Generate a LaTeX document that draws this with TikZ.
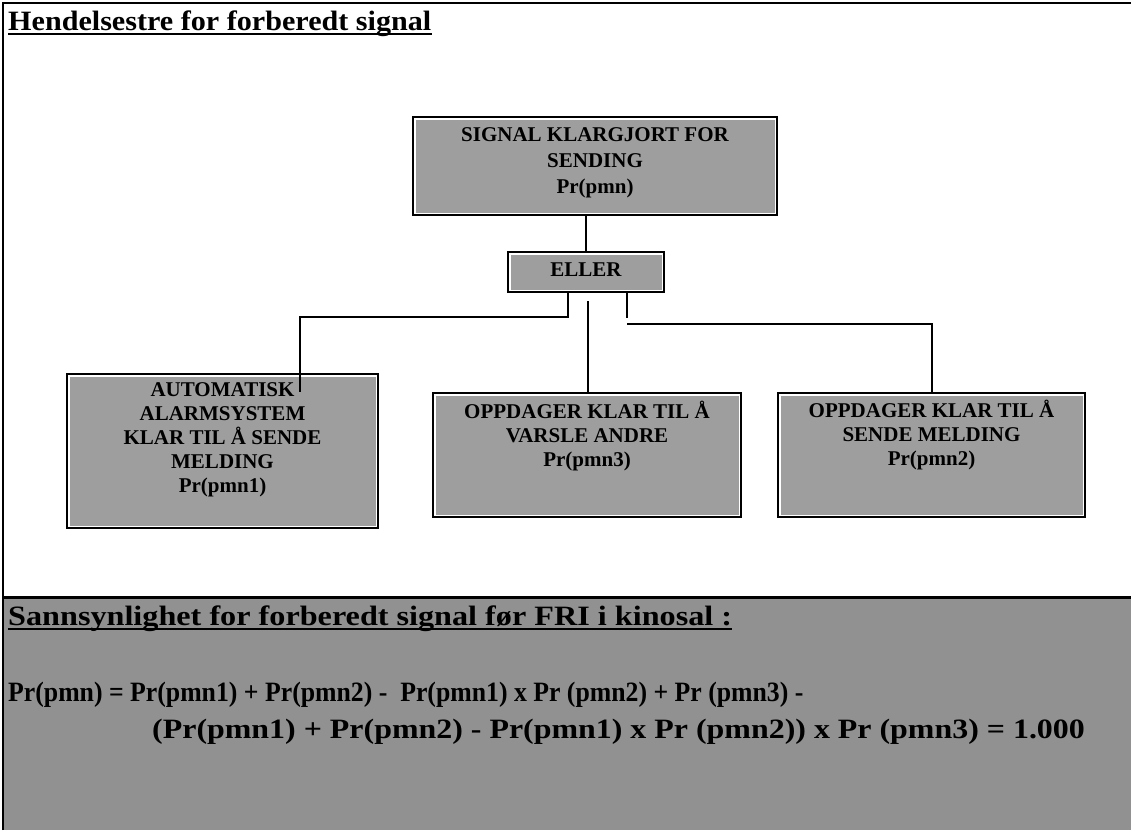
\documentclass[tikz,border=0pt]{standalone}
\usepackage{fontspec}
\usepackage{graphicx}
\setmainfont{Liberation Serif}
\definecolor{boxgray}{gray}{0.62}
\definecolor{areagray}{gray}{0.57}
\begin{document}
\begin{tikzpicture}[x=1pt,y=-1pt,
  frame/.style={line width=2.2pt, black},
  link/.style={line width=2pt, black},
  gbox/.style={draw=black, line width=2pt, fill=boxgray, inner sep=0pt,
    path picture={\draw[white, line width=5pt]
      (path picture bounding box.south west) rectangle
      (path picture bounding box.north east);}},
  btext/.style={align=center, inner sep=0pt,
    font=\bfseries\fontsize{21}{24}\selectfont},
  txt/.style={inner sep=0pt, anchor=base west},
  uline/.style={line width=1.6pt, black}]
\useasboundingbox (0,0) rectangle (1131,830);
\fill[white] (0,0) rectangle (1131,830);

% lower shaded section
\fill[areagray] (3,597) rectangle (1131,830);

% outer frame
\draw[frame] (3,830) -- (3,3) -- (1131,3);
\draw[line width=3pt] (3,597) -- (1131,597);

% heading
\node[txt, font=\bfseries\fontsize{28}{30}\selectfont] (title) at (8,30)
  {\scalebox{1.076}[1]{Hendelsestre for forberedt signal}};
\draw[uline] ([yshift=-4pt]title.base west) -- ([yshift=-4pt]title.base east);

% event tree boxes
\node[gbox, minimum width=364, minimum height=98] (top) at (595,166) {};
\node[gbox, minimum width=156, minimum height=40] (eller) at (586,272) {};
\node[gbox, minimum width=311, minimum height=154] (auto) at (222.5,451) {};
\node[gbox, minimum width=308, minimum height=124] (varsle) at (587,455) {};
\node[gbox, minimum width=307, minimum height=124] (melding) at (931.5,455) {};

% box captions
\node[btext, font=\bfseries\fontsize{21}{26}\selectfont] (top-t)
  at ([yshift=3pt]top.center) {SIGNAL KLARGJORT FOR\\SENDING\\Pr(pmn)};
\node[btext] (eller-t) at ([yshift=2pt]eller.center) {ELLER};
\node[btext] (auto-t) at ([yshift=11pt]auto.center)
  {AUTOMATISK\\ALARMSYSTEM\\KLAR TIL Å SENDE\\MELDING\\Pr(pmn1)};
\node[btext] (varsle-t) at ([yshift=19pt]varsle.center)
  {OPPDAGER KLAR TIL Å\\VARSLE ANDRE\\Pr(pmn3)};
\node[btext] (melding-t) at ([yshift=20pt]melding.center)
  {OPPDAGER KLAR TIL Å\\SENDE MELDING\\Pr(pmn2)};

% connectors
\coordinate (autoend) at (300,392);
\coordinate (midstart) at (588,301);
\coordinate (rstub) at (627,318);
\coordinate (rstart) at (627,324);
\draw[link] (eller.north |- top.south) -- (eller.north);
\draw[link] ([xshift=-18pt]eller.south) |- (450,317) -| (autoend);
\draw[link] (midstart) -- (midstart |- varsle.north);
\draw[link] (rstub |- eller.south) -- (rstub);
\draw[link] (rstart) -| (melding.north);

% probability text
\node[txt, font=\bfseries\fontsize{28}{30}\selectfont] (sub) at (8,625)
  {\scalebox{1.15}[1]{Sannsynlighet for forberedt signal før FRI i kinosal :}};
\draw[uline] ([yshift=-4pt]sub.base west) -- ([yshift=-4pt]sub.base east);
\node[txt, font=\bfseries\fontsize{28}{30}\selectfont] (eq1) at (8,701)
  {\scalebox{0.92}[1]{Pr(pmn) = Pr(pmn1) + Pr(pmn2) -\ \ Pr(pmn1) x Pr (pmn2) + Pr (pmn3) -}};
\node[txt, font=\bfseries\fontsize{28}{30}\selectfont] (eq2) at (152,738)
  {\scalebox{1.14}[1]{(Pr(pmn1) + Pr(pmn2) - Pr(pmn1) x Pr (pmn2)) x Pr (pmn3) = 1.000}};
\end{tikzpicture}
\end{document}
